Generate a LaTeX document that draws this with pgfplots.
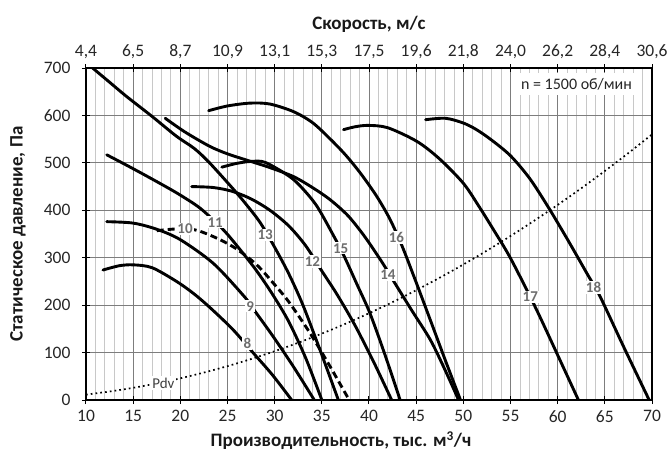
\documentclass[border=0pt]{standalone}
\usepackage{fontspec}
\setmainfont{Carlito}
\usepackage{pgfplots}
\pgfplotsset{compat=1.18}
\definecolor{mgrid}{RGB}{125,125,125}
\definecolor{ngrid}{RGB}{200,200,200}
\definecolor{lblc}{RGB}{110,110,110}
\begin{document}
\begin{tikzpicture}
\pgfplotsset{
  curve/.style={black, line width=2.9pt, smooth, tension=0.5, line cap=round},
}
\tikzset{lbl/.style={fill=white, inner sep=1.2pt, text=lblc, font=\bfseries\fontsize{15}{15}\selectfont}}
\begin{axis}[
  at={(0pt,0pt)}, anchor=south west,
  scale only axis, width=566pt, height=332pt,
  xmin=10, xmax=70, ymin=0, ymax=700,
  xtick={10,15,...,70}, ytick={0,100,...,700},
  minor x tick num=4,
  xmajorgrids, ymajorgrids, xminorgrids,
  major grid style={mgrid, line width=0.8pt},
  minor grid style={ngrid, line width=0.8pt},
  minor tick length=0pt,
  tick align=center, major tick length=8pt,
  xtick pos=bottom, ytick pos=left,
  tick style={black, line width=1pt},
  axis line style={black, line width=1.3pt},
  /pgf/number format/assume math mode=true,
  ticklabel style={font=\fontsize{17.5}{17.5}\selectfont, text=black!85},
  xticklabel style={yshift=-3pt},
  yticklabel style={xshift=-8pt},
  xlabel={Производительность, тыс. м\textsuperscript{3}/ч},
  ylabel={Статическое давление, Па},
  label style={font=\bfseries\fontsize{19}{19}\selectfont, text=black!90},
  xlabel style={at={(axis description cs:0.5,0)}, anchor=center, yshift=-41pt, xshift=-28pt},
  ylabel style={at={(axis description cs:0,0.5)}, anchor=center, yshift=68pt},
  clip=true,
]
% Pdv dotted
\addplot[black, line width=1.7pt, dash pattern=on 1.7pt off 3.1pt, smooth] coordinates {
(10,11.4) (12.5,17.9) (15,25.7) (17.5,35.0) (20,45.7) (22.5,57.9) (25,71.4) (27.5,86.4) (30,102.9) (32.5,120.7) (35,140) (37.5,160.7) (40,182.9) (42.5,206.4) (45,231.4) (47.5,257.9) (50,285.7) (52.5,315) (55,345.7) (57.5,377.9) (60,411.4) (62.5,446.4) (65,482.9) (67.5,520.7) (70,560)};
% 8
\addplot[curve] coordinates {(11.8,274) (13.5,283) (15,285) (17,279) (19.6,250) (21.5,223) (23.3,192) (25.6,148) (27.7,100) (29.8,52) (31.8,0)};
% 9
\addplot[curve] coordinates {(12.2,376) (15,373) (17.5,360) (20,338) (23.5,288) (26.7,220) (27.7,193) (29.8,135) (32,70) (34.2,0)};
% 10 dashed
\addplot[curve, dash pattern=on 7pt off 4pt, line cap=butt] coordinates {(17.5,357) (19,360) (20.5,361) (21.9,357) (24,340) (26,318) (28.1,285) (29.7,250) (31.5,207) (33.75,141) (35.6,80) (36.7,42) (37.9,0)};
% 11
\addplot[curve] coordinates {(12.2,517) (14.5,493) (17,466) (19.5,438) (21.5,413) (22.6,396) (24.6,358) (26.3,318) (28.1,272) (29.8,222) (31.5,165) (33.3,88) (35,0)};
% 12
\addplot[curve] coordinates {(21.2,450) (23.5,448) (25.5,440) (27.5,424) (29.5,400) (31.5,367) (33.3,325) (35,272) (36.6,223) (38.5,158) (40.5,80) (42.4,0)};
% 13
\addplot[curve] coordinates {(10.7,700) (12.5,670) (14.3,640) (17,598) (19.6,556) (21.5,530) (23.1,500) (25.6,445) (27,412) (28.5,373) (30,322) (31.5,266) (33,200) (34.8,106) (36.75,0)};
% 14
\addplot[curve] coordinates {(18.4,594) (20.5,565) (23.1,535) (25,519) (27,506) (29.5,490) (32,471) (34,448) (35.9,422) (37.8,388) (39.6,343) (41.4,290) (42.6,251) (44.5,190) (46.5,127) (48,66) (49.5,0)};
% 15
\addplot[curve] coordinates {(24.4,491) (26,499) (27.5,503) (29,501) (31.6,471) (33,445) (34.5,408) (36.2,348) (37.3,306) (38.7,245) (40.1,183) (41.7,95) (43.3,0)};
% 16
\addplot[curve] coordinates {(23,610) (25,620) (27.4,626) (29.5,624) (32,608) (34,585) (35.8,552) (37.5,517) (39.1,478) (40.8,430) (42.2,382) (43.5,325) (45,248) (46.7,158) (48.2,78) (49.7,0)};
% 17
\addplot[curve] coordinates {(37.3,570) (38.5,576) (39.9,579) (42,574) (45.1,545) (47.5,508) (50,457) (51.6,410) (53.2,359) (55,299) (57.6,197) (59.9,99) (62.2,0)};
% 18
\addplot[curve] coordinates {(46,591) (48.1,594) (50,584) (51.4,570) (53,548) (55,515) (57,468) (58.9,410) (61,340) (63.1,267) (64.5,218) (67,112) (69.7,0)};
% labels
\node[lbl] at (axis cs:27.1,120) {8};
\node[lbl] at (axis cs:27.4,198) {9};
\node[lbl] at (axis cs:20.5,361) {10};
\node[lbl] at (axis cs:23.7,375) {11};
\node[lbl] at (axis cs:34.0,292) {12};
\node[lbl] at (axis cs:29.0,348) {13};
\node[lbl] at (axis cs:42.0,264) {14};
\node[lbl] at (axis cs:37.0,320) {15};
\node[lbl] at (axis cs:42.9,343) {16};
\node[lbl] at (axis cs:57.1,217) {17};
\node[lbl] at (axis cs:63.8,238) {18};
\node[fill=white, inner sep=1.5pt, text=black!75, font=\fontsize{15}{15}\selectfont] at (axis cs:18.2,36) {Pdv};
\node[fill=white, inner xsep=9pt, inner ysep=5pt, text=black!85, font=\fontsize{16}{16}\selectfont] at (axis cs:62.0,666) {n = 1500 об/мин};
\end{axis}
\begin{axis}[
  at={(0pt,0pt)}, anchor=south west,
  scale only axis, width=566pt, height=332pt,
  xmin=10, xmax=70, ymin=0, ymax=700,
  axis x line*=top, hide y axis,
  xtick={10,15,...,70},
  xticklabels={{4,4},{6,5},{8,7},{10,9},{13,1},{15,3},{17,5},{19,6},{21,8},{24,0},{26,2},{28,4},{30,6}},
  tick align=center, major tick length=8pt,
  tick style={black, line width=1pt},
  axis line style={black, line width=1.3pt},
  ticklabel style={font=\fontsize{17.5}{17.5}\selectfont, text=black!85},
  xticklabel style={yshift=2pt},
  xlabel={Скорость, м/с},
  xlabel style={font=\bfseries\fontsize{19}{19}\selectfont, text=black!90, at={(axis description cs:0.5,1)}, anchor=center, yshift=44pt},
]
\end{axis}
\pgfresetboundingbox
\path (-86pt,-51pt) rectangle (584pt,400pt);
\end{tikzpicture}
\end{document}
